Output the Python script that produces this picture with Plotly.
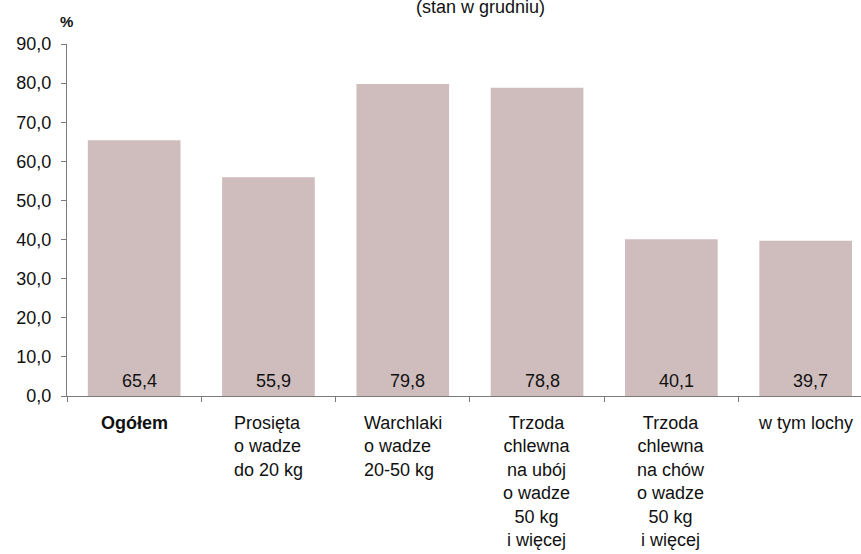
import plotly.graph_objects as go

categories = ["Ogółem", "Prosięta", "Warchlaki", "Trzoda ubój", "Trzoda chów", "w tym lochy"]
category_labels = [
    "<b>Ogółem</b>",
    "Prosięta<br>o wadze<br>do 20 kg",
    "Warchlaki<br>o wadze<br>20-50 kg",
    "Trzoda<br>chlewna<br>na ubój<br>o wadze<br>50 kg<br>i więcej",
    "Trzoda<br>chlewna<br>na chów<br>o wadze<br>50 kg<br>i więcej",
    "w tym lochy",
]
label_align = ["center", "left", "left", "center", "center", "center"]
values = [65.4, 55.9, 79.8, 78.8, 40.1, 39.7]
y_ticks = [0, 10, 20, 30, 40, 50, 60, 70, 80, 90]

FONT = "Liberation Sans, Arial, sans-serif"
FS = 18
AXIS_COLOR = "#7a7a7a"

W, H = 861, 554
L, R, T, B = 67, 0, 44, 158

fig = go.Figure()
fig.add_trace(go.Bar(
    x=categories, y=values, width=0.69,
    marker=dict(color="#CFBDBD", line=dict(width=0)),
    hoverinfo="skip",
))

annotations = []
for c, v in zip(categories, values):
    annotations.append(dict(
        x=c, y=0, xref="x", yref="y", yanchor="middle", yshift=15, xshift=5,
        text=f"{v:.1f}".replace(".", ","), showarrow=False,
        font=dict(family=FONT, size=FS, color="#111111"),
    ))
for c, lab, al in zip(categories, category_labels, label_align):
    annotations.append(dict(
        x=c, y=0, xref="x", yref="paper", yanchor="top", yshift=-15,
        text=lab, align=al, showarrow=False,
        font=dict(family=FONT, size=FS, color="#111111"),
    ))
annotations.append(dict(
    x=(480 - L) / (W - L - R), xref="paper", y=1, yref="paper",
    xanchor="center", yanchor="bottom",
    text="(stan w grudniu)", showarrow=False, yshift=25,
    font=dict(family=FONT, size=FS, color="#111111"),
))
annotations.append(dict(
    x=0, xref="paper", y=1, yref="paper", xanchor="center", yanchor="middle",
    text="<b>%</b>", showarrow=False, yshift=23, xshift=-1,
    font=dict(family=FONT, size=15, color="#111111"),
))

fig.update_layout(
    width=W, height=H,
    margin=dict(l=L, r=R, t=T, b=B, pad=0),
    paper_bgcolor="white", plot_bgcolor="white",
    separators=", ",
    showlegend=False,
    font=dict(family=FONT, size=FS, color="#111111"),
    annotations=annotations,
    xaxis=dict(
        type="category", range=[-0.5, 5.412],
        tickson="boundaries", ticks="outside", ticklen=5, tickcolor=AXIS_COLOR, tickwidth=1,
        showticklabels=False, showline=True, linecolor=AXIS_COLOR, linewidth=1,
        showgrid=False, zeroline=False, fixedrange=True,
    ),
    yaxis=dict(
        range=[0, 90], tickvals=y_ticks, tickformat=".1f",
        ticks="outside", ticklen=5, tickcolor=AXIS_COLOR, tickwidth=1,
        showline=True, linecolor=AXIS_COLOR, linewidth=1,
        showgrid=False, zeroline=False, ticklabelstandoff=6,
        tickfont=dict(family=FONT, size=FS, color="#111111"),
        fixedrange=True,
    ),
)

fig.write_html(
    "out.html",
    config={"displayModeBar": False, "staticPlot": True},
    post_script="document.body.style.margin='0';document.body.style.overflow='hidden';",
)
